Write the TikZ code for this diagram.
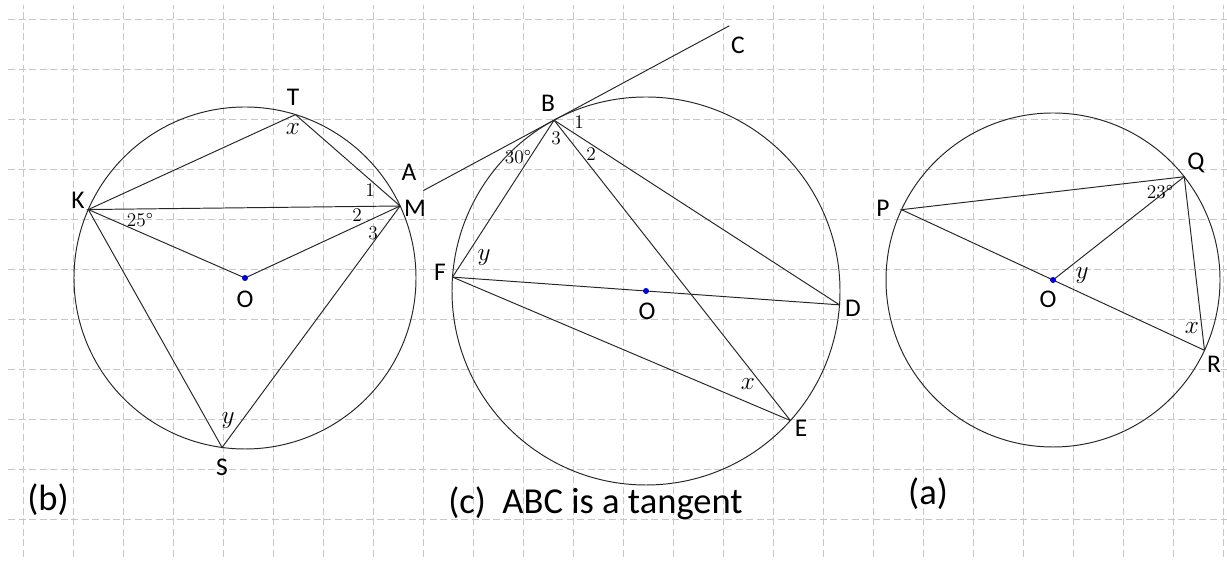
\documentclass[tikz,border=0pt]{standalone}
\usepackage{fontspec}
\newfontfamily\lblfont{Carlito}
\begin{document}
\begin{tikzpicture}
\tikzstyle{gridline}=[draw=black!22, dash pattern=on 4pt off 2pt, line width=0.4pt]
\tikzstyle{chord}=[draw=black!85, line width=0.55pt]
\tikzstyle{ptlabel}=[font=\lblfont\fontsize{14.5}{16}\selectfont, inner sep=0pt]
\tikzstyle{caption}=[font=\lblfont\fontsize{20.8}{24}\selectfont, inner sep=0pt]
\tikzstyle{anglabel}=[font=\fontsize{11}{13}\selectfont, inner sep=0pt]
\tikzstyle{varlabel}=[font=\fontsize{14.4}{17}\selectfont, inner sep=0pt]
\tikzstyle{centre}=[fill=blue!85!black]
\useasboundingbox (0,0) rectangle (24.54,11.24);
% squared paper
\foreach \i in {0,...,24} \draw[gridline] (0.4667+\i,0.1) -- (0.4667+\i,11.14);
\foreach \j in {0,...,10} \draw[gridline] (0.16,10.86-\j) -- (24.54,10.86-\j);
% (b)
\coordinate (Ob) at (4.90,5.68);
\coordinate (K) at ([shift={(156.4:3.42)}]Ob);
\coordinate (T) at ([shift={(72.85:3.42)}]Ob);
\coordinate (M) at ([shift={(24.9:3.42)}]Ob);
\coordinate (S) at ([shift={(262.3:3.42)}]Ob);
\draw[chord] (Ob) circle (3.42);
\draw[chord] (K) -- (T) -- (M) -- cycle;
\draw[chord] (K) -- (Ob) -- (M);
\draw[chord] (K) -- (S) -- (M);
\fill[centre] (Ob) circle (1.7pt);
\node[ptlabel] (lT) at (5.86,9.30) {T};
\node[varlabel] (lxb) at (5.86,8.66) {$x$};
\node[ptlabel] (lM) at (8.30,7.08) {M};
\node[ptlabel] (lK) at (1.56,7.24) {K};
\node[ptlabel] (lOb) at (4.90,5.26) {O};
\node[ptlabel] (lS) at (4.44,1.90) {S};
\node[varlabel] (lyb) at (4.56,2.82) {$y$};
\node[anglabel] (l25) at (2.80,6.84) {25\textdegree};
\node[anglabel] (lb1) at (7.40,7.44) {1};
\node[anglabel] (lb2) at (7.14,6.94) {2};
\node[anglabel] (lb3) at (7.46,6.58) {3};
\node[caption] (capb) at (0.96,1.24) {(b)};
% (c)
\coordinate (Oc) at (12.92,5.42);
\coordinate (B) at ([shift={(118.3:3.88)}]Oc);
\coordinate (F) at ([shift={(175.9:3.88)}]Oc);
\coordinate (D) at ([shift={(-4.1:3.88)}]Oc);
\coordinate (E) at ([shift={(-41.9:3.88)}]Oc);
\coordinate (A) at ([shift={(208.3:2.97)}]B);
\coordinate (C) at ([shift={(28.3:3.98)}]B);
\draw[chord] (Oc) circle (3.88);
\draw[chord] (A) -- (C);
\draw[chord] (F) -- (B) -- (E);
\draw[chord] (B) -- (D);
\draw[chord] (F) -- (D);
\draw[chord] (F) -- (E);
\fill[centre] (Oc) circle (1.7pt);
\node[ptlabel] (lA) at (8.18,7.80) {A};
\node[ptlabel] (lB) at (10.96,9.18) {B};
\node[ptlabel] (lC) at (14.76,10.34) {C};
\node[ptlabel] (lF) at (8.80,5.80) {F};
\node[ptlabel] (lOc) at (12.94,5.02) {O};
\node[ptlabel] (lD) at (17.06,5.08) {D};
\node[ptlabel] (lE) at (16.02,2.68) {E};
\node[anglabel] (lc1) at (11.58,8.80) {1};
\node[anglabel] (lc3) at (11.12,8.48) {3};
\node[anglabel] (lc2) at (11.82,8.16) {2};
\node[anglabel] (l30) at (10.36,8.10) {30\textdegree};
\node[varlabel] (lyc) at (9.68,6.08) {$y$};
\node[varlabel] (lxc) at (14.96,3.56) {$x$};
\node[caption, anchor=west] (capc) at (8.96,1.18) {(c)\ \ ABC is a tangent};
% (a)
\coordinate (Oa) at (21.06,5.64);
\coordinate (P) at ([shift={(155.1:3.34)}]Oa);
\coordinate (Q) at ([shift={(38.2:3.34)}]Oa);
\coordinate (R) at ([shift={(-24.9:3.34)}]Oa);
\draw[chord] (Oa) circle (3.34);
\draw[chord] (P) -- (Q) -- (R) -- cycle;
\draw[chord] (Q) -- (Oa);
\fill[centre] (Oa) circle (1.7pt);
\node[ptlabel] (lP) at (17.66,7.08) {P};
\node[ptlabel] (lQ) at (23.92,7.98) {Q};
\node[ptlabel] (lR) at (24.28,3.96) {R};
\node[ptlabel] (lOa) at (20.96,5.26) {O};
\node[varlabel] (lya) at (21.64,5.72) {$y$};
\node[varlabel] (lxa) at (23.84,4.68) {$x$};
\node[anglabel] (l23) at (23.20,7.40) {23\textdegree};
\node[caption] (capa) at (18.56,1.36) {(a)};
\end{tikzpicture}
\end{document}
